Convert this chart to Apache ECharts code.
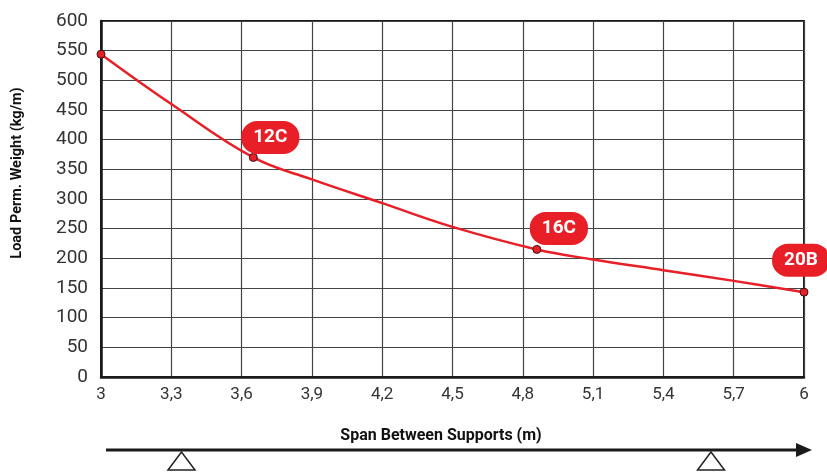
<!DOCTYPE html>
<html>
<head>
<meta charset="utf-8">
<script src="https://cdn.jsdelivr.net/npm/echarts@6/dist/echarts.min.js"></script>
<style>html,body{margin:0;padding:0;background:#fff}#c{width:827px;height:474px}</style>
</head>
<body>
<div id="c"></div>
<script>
// Curve (span m, load kg/m)
var curveSpan = [3, 3.3, 3.65, 3.9, 4.2, 4.5, 4.86, 5.1, 5.4, 5.7, 6];
var curveLoad = [544, 460, 370, 333, 293, 253, 215, 198, 180, 162, 143];
// Marked profiles
var markSpan = [3, 3.65, 4.86, 6];
var markLoad = [544, 370, 215, 143];
var markNames = ['', '12C', '16C', '20B'];
var xTitle = 'Span Between Supports (m)';
var yTitle = 'Load Perm. Weight (kg/m)';

var RED = '#e81f27';
var chart = echarts.init(document.getElementById('c'), null, {renderer: 'canvas'});

var labelOffsets = {'12C': [17, -20], '16C': [22, -21], '20B': [-3, -32]};
var markData = markSpan.map(function (s, i) {
  var d = {value: [s, markLoad[i]], name: markNames[i]};
  if (markNames[i]) {
    d.label = {
      show: true, position: 'inside', offset: labelOffsets[markNames[i]],
      formatter: '{b}', color: '#fff', fontFamily: 'Roboto', fontWeight: 'bold', fontSize: 19,
      backgroundColor: RED, borderRadius: 16, padding: [8, 12, 6, 12]
    };
  }
  return d;
});

chart.setOption({
  animation: false,
  grid: {left: 101, right: 23, top: 21, bottom: 97, show: true, borderColor: '#1a1a1a', borderWidth: 2},
  xAxis: {
    type: 'value', min: 3, max: 6, interval: 0.3,
    axisLine: {show: true, lineStyle: {color: '#1a1a1a', width: 2.5}},
    axisTick: {show: false},
    axisLabel: {
      margin: 9, color: '#333', fontFamily: 'Roboto', fontSize: 17,
      formatter: function (v) { var r = Math.round(v * 10) / 10; return String(r).replace('.', ','); }
    },
    splitLine: {show: true, lineStyle: {color: '#444', width: 1.2}}
  },
  yAxis: {
    type: 'value', min: 0, max: 600, interval: 50,
    axisLine: {show: true, lineStyle: {color: '#1a1a1a', width: 2.5}},
    axisTick: {show: false},
    axisLabel: {margin: 13, color: '#333', fontFamily: 'Roboto', fontSize: 19},
    splitLine: {show: true, lineStyle: {color: '#444', width: 1.2}}
  },
  series: [
    {
      type: 'line', data: curveSpan.map(function (s, i) { return [s, curveLoad[i]]; }),
      smooth: 0.4, showSymbol: false,
      lineStyle: {color: RED, width: 2.5}, z: 3
    },
    {
      type: 'scatter', data: markData, symbol: 'circle', symbolSize: 8,
      itemStyle: {color: RED, borderColor: '#3a1010', borderWidth: 1, opacity: 1}, z: 5
    }
  ],
  graphic: [
    {type: 'text', x: 17, y: 173, rotation: Math.PI / 2,
     style: {text: yTitle, fontFamily: 'Roboto', fontWeight: 'bold', fontSize: 14.5, fill: '#111', textAlign: 'center', textVerticalAlign: 'middle'}},
    {type: 'text', x: 441, y: 436,
     style: {text: xTitle, fontFamily: 'Roboto', fontWeight: 'bold', fontSize: 16, fill: '#111', textAlign: 'center', textVerticalAlign: 'middle'}},
    {type: 'line', shape: {x1: 106, y1: 450, x2: 798, y2: 450}, style: {stroke: '#1a1a1a', lineWidth: 3}},
    {type: 'polygon', shape: {points: [[796, 443], [812, 450], [796, 457]]}, style: {fill: '#1a1a1a'}},
    {type: 'polygon', shape: {points: [[181.5, 452], [168, 470], [195, 470]]}, style: {fill: '#fff', stroke: '#222', lineWidth: 1.5}},
    {type: 'polygon', shape: {points: [[711, 452], [697.5, 470], [724.5, 470]]}, style: {fill: '#fff', stroke: '#222', lineWidth: 1.5}}
  ]
});
</script>
</body>
</html>
